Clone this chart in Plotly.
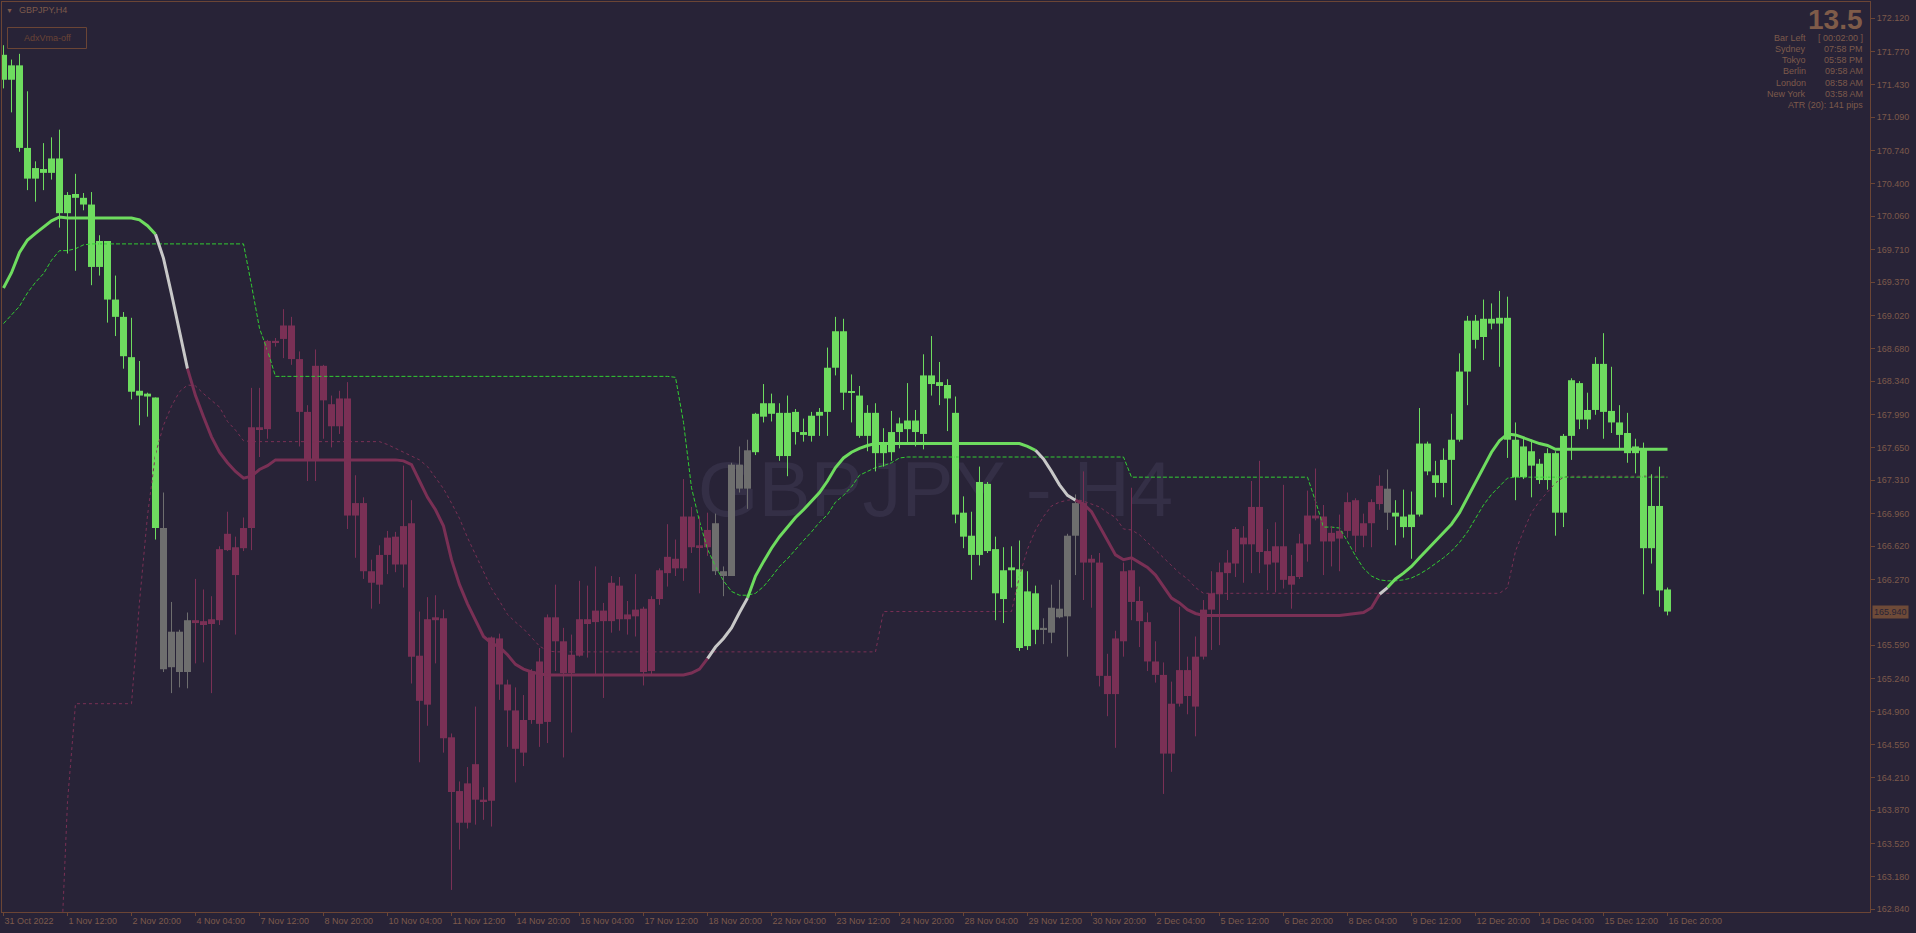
import plotly.graph_objects as go

# ---- data (GBPJPY H4) ----
time_labels = ['31 Oct 2022', '1 Nov 12:00', '2 Nov 20:00', '4 Nov 04:00', '7 Nov 12:00',
               '8 Nov 20:00', '10 Nov 04:00', '11 Nov 12:00', '14 Nov 20:00', '16 Nov 04:00',
               '17 Nov 12:00', '18 Nov 20:00', '22 Nov 04:00', '23 Nov 12:00', '24 Nov 20:00',
               '28 Nov 04:00', '29 Nov 12:00', '30 Nov 20:00', '2 Dec 04:00', '5 Dec 12:00',
               '6 Dec 20:00', '8 Dec 04:00', '9 Dec 12:00', '12 Dec 20:00', '14 Dec 04:00',
               '15 Dec 12:00', '16 Dec 20:00']

opens = [
    171.74, 171.48, 171.63, 170.77, 170.45, 170.55, 170.51, 170.66, 170.09, 170.29,
    170.25, 170.18, 169.53, 169.80, 169.19, 169.01, 168.59, 168.24, 168.21, 168.17,
    166.81, 165.36, 165.73, 165.31, 165.85, 165.84, 165.81, 165.85, 166.58, 166.61,
    166.60, 166.81, 167.86, 167.84, 168.76, 168.78, 168.92, 168.57, 168.02, 167.52,
    168.50, 168.10, 167.87, 168.16, 166.94, 167.07, 166.36, 166.22, 166.53, 166.72,
    166.43, 166.86, 165.48, 164.97, 165.85, 165.87, 164.63, 164.07, 163.74, 163.98,
    163.98, 163.97, 165.66, 165.18, 164.91, 164.47, 164.81, 165.42, 164.79, 165.88,
    165.63, 165.30, 165.48, 165.86, 165.83, 165.95, 165.84, 166.21, 165.86, 165.89,
    165.97, 165.32, 166.07, 166.34, 166.49, 166.39, 166.93, 166.61, 166.61, 166.86,
    166.36, 166.31, 167.47, 167.22, 167.60, 167.97, 168.11, 168.01, 167.56, 168.02,
    167.81, 167.77, 167.98, 168.02, 168.48, 168.86, 168.22, 168.19, 167.77, 168.01,
    167.59, 167.60, 167.81, 167.93, 167.81, 167.79, 168.40, 168.33, 168.30, 168.01,
    166.97, 166.73, 166.53, 167.27, 166.59, 166.07, 166.37, 166.38, 165.58, 166.13,
    165.75, 165.72, 165.97, 165.89, 166.73, 167.07, 166.45, 166.45, 165.27, 165.08,
    165.63, 166.37, 166.05, 165.83, 165.42, 165.28, 164.46, 164.98, 165.33, 164.95,
    165.47, 165.96, 166.12, 166.34, 166.44, 166.71, 166.64, 167.03, 166.57, 166.45,
    166.62, 166.31, 166.30, 166.64, 166.94, 166.93, 166.67, 166.78, 166.78, 167.10,
    166.73, 166.86, 167.06, 167.22, 166.97, 166.93, 166.82, 166.95, 167.69, 167.36,
    167.28, 167.52, 167.73, 168.44, 168.97, 168.80, 168.99, 168.94, 169.00, 167.73,
    167.34, 167.61, 167.48, 167.31, 167.59, 166.97, 167.77, 168.32, 167.94, 168.04,
    168.52, 168.03, 167.91, 167.80, 167.59, 167.63, 166.60, 167.04, 166.17]

highs = [
    171.84, 171.69, 171.75, 171.36, 170.63, 170.82, 170.88, 170.96, 170.31, 170.50,
    170.30, 170.31, 169.86, 169.80, 169.44, 169.06, 169.00, 168.55, 168.22, 168.17,
    167.18, 166.04, 165.75, 165.93, 166.28, 166.17, 166.10, 166.62, 166.98, 166.72,
    166.92, 168.27, 168.27, 168.77, 168.79, 169.09, 169.01, 168.65, 168.09, 168.67,
    168.51, 168.19, 168.24, 168.33, 167.36, 167.13, 166.48, 166.63, 166.78, 166.77,
    167.46, 167.10, 165.94, 166.09, 166.11, 165.96, 164.67, 164.17, 164.32, 164.95,
    164.11, 165.68, 165.71, 165.23, 165.15, 165.07, 165.34, 165.56, 165.91, 166.22,
    165.77, 165.70, 166.26, 166.21, 166.41, 166.03, 166.31, 166.30, 166.05, 166.33,
    165.99, 166.10, 166.39, 166.85, 166.69, 167.32, 167.03, 166.93, 166.97, 166.96,
    166.41, 167.49, 167.66, 167.73, 168.01, 168.31, 168.21, 168.11, 168.19, 168.05,
    167.95, 168.02, 168.06, 168.69, 169.01, 168.99, 168.41, 168.29, 168.09, 168.11,
    167.85, 168.03, 167.96, 168.32, 168.04, 168.62, 168.81, 168.54, 168.36, 168.18,
    167.14, 166.98, 167.45, 167.29, 166.72, 166.61, 166.62, 166.68, 166.36, 166.21,
    165.87, 166.22, 166.27, 166.75, 167.16, 167.40, 166.53, 166.55, 165.50, 165.74,
    166.45, 167.23, 166.20, 165.93, 165.63, 165.41, 165.21, 165.99, 165.47, 165.68,
    166.06, 166.36, 166.45, 166.58, 166.82, 166.83, 167.30, 167.51, 166.80, 166.87,
    167.26, 166.53, 166.75, 167.20, 167.43, 167.05, 166.83, 166.95, 167.18, 167.12,
    166.96, 167.11, 167.36, 167.42, 167.10, 167.21, 167.19, 168.06, 167.71, 167.51,
    167.64, 168.00, 168.63, 169.02, 169.03, 169.19, 169.15, 169.28, 169.22, 167.91,
    167.74, 167.73, 167.53, 167.64, 167.61, 167.79, 168.37, 168.34, 168.22, 168.59,
    168.84, 168.49, 168.09, 168.01, 167.74, 167.70, 167.37, 167.45, 166.19]

lows = [
    171.39, 171.14, 170.73, 170.33, 170.21, 170.33, 170.44, 169.94, 169.67, 169.49,
    170.12, 169.34, 169.44, 168.95, 168.81, 168.47, 168.15, 167.88, 167.97, 166.69,
    165.31, 165.09, 165.15, 165.14, 165.40, 165.41, 165.09, 165.80, 166.57, 165.70,
    166.57, 166.58, 167.55, 167.74, 168.70, 168.58, 168.51, 167.66, 167.30, 167.30,
    167.74, 167.65, 167.79, 166.80, 166.50, 166.28, 165.97, 166.02, 166.33, 166.35,
    166.19, 165.19, 164.37, 164.75, 165.40, 164.47, 163.04, 163.46, 163.68, 163.72,
    163.77, 163.70, 165.02, 164.53, 164.16, 164.33, 164.77, 164.53, 164.57, 165.32,
    164.42, 164.68, 165.47, 165.46, 165.27, 165.04, 165.72, 165.74, 165.70, 165.68,
    165.17, 165.28, 166.01, 166.20, 166.31, 166.26, 166.55, 166.13, 166.52, 166.32,
    166.10, 166.31, 167.18, 167.01, 167.57, 167.91, 167.92, 167.51, 167.35, 167.68,
    167.71, 167.71, 167.77, 167.77, 168.40, 168.04, 167.91, 167.75, 167.61, 167.40,
    167.45, 167.51, 167.64, 167.70, 167.66, 167.63, 168.19, 168.09, 167.82, 166.86,
    166.60, 166.27, 166.42, 166.55, 165.85, 165.82, 166.19, 165.53, 165.54, 165.60,
    165.60, 165.61, 165.87, 165.47, 166.32, 166.06, 165.98, 165.16, 164.85, 164.52,
    165.47, 165.85, 165.57, 165.32, 165.20, 164.04, 164.27, 164.95, 164.87, 164.64,
    165.44, 165.54, 165.59, 166.06, 166.30, 166.24, 166.34, 166.34, 166.16, 166.14,
    166.18, 165.97, 166.28, 166.46, 166.89, 166.32, 166.41, 166.36, 166.71, 166.56,
    166.61, 166.61, 167.00, 166.79, 166.63, 166.71, 166.49, 166.93, 167.36, 167.13,
    167.13, 167.05, 167.71, 168.09, 168.68, 168.56, 168.88, 168.49, 167.54, 167.10,
    167.32, 167.13, 167.27, 167.21, 166.73, 166.82, 167.52, 167.84, 167.84, 167.99,
    167.74, 167.80, 167.64, 167.49, 167.38, 166.12, 166.44, 165.99, 165.90]

closes = [
    171.48, 171.63, 170.77, 170.45, 170.56, 170.51, 170.66, 170.09, 170.28, 170.25,
    170.18, 169.53, 169.80, 169.19, 169.01, 168.60, 168.23, 168.19, 168.18, 166.81,
    165.34, 165.73, 165.31, 165.85, 165.82, 165.80, 165.86, 166.59, 166.75, 166.32,
    166.81, 167.86, 167.84, 168.76, 168.74, 168.92, 168.57, 168.02, 167.52, 168.50,
    168.14, 167.87, 168.16, 166.94, 167.07, 166.36, 166.24, 166.53, 166.71, 166.43,
    166.83, 165.47, 165.01, 165.86, 165.88, 164.62, 164.06, 163.74, 164.15, 164.35,
    163.96, 165.67, 165.18, 164.91, 164.51, 164.81, 165.32, 164.77, 165.88, 165.63,
    165.30, 165.49, 165.86, 165.81, 165.95, 165.84, 166.24, 165.86, 165.91, 165.96,
    165.31, 166.07, 166.37, 166.51, 166.39, 166.93, 166.61, 166.63, 166.79, 166.36,
    166.31, 167.47, 167.22, 167.62, 168.00, 168.11, 168.00, 167.56, 168.01, 167.81,
    167.78, 167.98, 168.02, 168.48, 168.86, 168.22, 168.23, 167.77, 168.01, 167.59,
    167.70, 167.81, 167.90, 167.84, 167.93, 168.40, 168.31, 168.29, 168.16, 166.95,
    166.72, 166.53, 167.29, 166.57, 166.13, 166.37, 166.40, 165.56, 166.15, 165.75,
    165.77, 165.98, 165.88, 166.73, 167.07, 166.45, 166.49, 165.27, 165.08, 165.66,
    166.36, 166.04, 165.84, 165.42, 165.28, 164.46, 164.98, 165.33, 165.06, 165.47,
    165.96, 166.13, 166.35, 166.45, 166.80, 166.64, 167.03, 166.56, 166.43, 166.62,
    166.27, 166.22, 166.65, 166.94, 166.91, 166.67, 166.76, 166.70, 167.08, 166.73,
    166.86, 167.08, 167.25, 166.97, 166.93, 166.82, 166.95, 167.69, 167.40, 167.28,
    167.52, 167.73, 168.44, 168.97, 168.77, 168.99, 168.94, 169.00, 167.73, 167.34,
    167.66, 167.46, 167.31, 167.59, 166.97, 167.77, 168.35, 167.94, 168.04, 168.52,
    168.02, 167.91, 167.78, 167.59, 167.66, 166.60, 167.04, 166.16, 165.94]

# trend state of the AdxVma, as (state, number of bars)
state_runs = [('up', 20), ('flat', 4), ('down', 65), ('flat', 5), ('up', 36),
              ('flat', 5), ('down', 38), ('flat', 1), ('up', 35)]

adxvma = [
    169.31, 169.47, 169.68, 169.81, 169.88, 169.95, 170.01, 170.05, 170.04, 170.04,
    170.04, 170.04, 170.04, 170.04, 170.04, 170.04, 170.04, 170.02, 169.96, 169.87,
    169.62, 169.25, 168.86, 168.47, 168.19, 167.97, 167.76, 167.60, 167.49, 167.40,
    167.33, 167.35, 167.42, 167.46, 167.52, 167.52, 167.52, 167.52, 167.52, 167.52,
    167.52, 167.52, 167.52, 167.52, 167.52, 167.52, 167.52, 167.52, 167.52, 167.52,
    167.51, 167.47, 167.30, 167.13, 167.00, 166.83, 166.48, 166.22, 166.02, 165.85,
    165.68, 165.61, 165.57, 165.49, 165.39, 165.34, 165.31, 165.29, 165.28, 165.28,
    165.28, 165.28, 165.28, 165.28, 165.28, 165.28, 165.28, 165.28, 165.28, 165.28,
    165.28, 165.28, 165.28, 165.28, 165.28, 165.28, 165.30, 165.34, 165.45, 165.57,
    165.66, 165.77, 165.93, 166.08, 166.31, 166.46, 166.60, 166.72, 166.82, 166.92,
    167.00, 167.09, 167.18, 167.30, 167.44, 167.54, 167.60, 167.64, 167.67, 167.69,
    167.69, 167.69, 167.69, 167.69, 167.69, 167.69, 167.69, 167.69, 167.69, 167.69,
    167.69, 167.69, 167.69, 167.69, 167.69, 167.69, 167.69, 167.69, 167.66, 167.62,
    167.53, 167.40, 167.26, 167.15, 167.10, 167.06, 166.98, 166.83, 166.67, 166.53,
    166.48, 166.50, 166.45, 166.40, 166.32, 166.20, 166.08, 166.03, 165.96, 165.92,
    165.90, 165.90, 165.90, 165.90, 165.90, 165.90, 165.90, 165.90, 165.90, 165.90,
    165.90, 165.90, 165.90, 165.90, 165.90, 165.90, 165.90, 165.90, 165.91, 165.92,
    165.93, 165.98, 166.12, 166.19, 166.28, 166.34, 166.41, 166.50, 166.59, 166.67,
    166.76, 166.85, 166.97, 167.13, 167.29, 167.45, 167.60, 167.72, 167.79, 167.78,
    167.75, 167.72, 167.69, 167.67, 167.63, 167.63, 167.63, 167.63, 167.63, 167.63,
    167.63, 167.63, 167.63, 167.63, 167.63, 167.63, 167.63, 167.63, 167.63]

upper_band = [
    168.94, 169.03, 169.12, 169.26, 169.37, 169.46, 169.60, 169.70, 169.70, 169.72,
    169.76, 169.77, 169.77, 169.77, 169.77, 169.77, 169.77, 169.77, 169.77, 169.77,
    169.77, 169.77, 169.77, 169.77, 169.77, 169.77, 169.77, 169.77, 169.77, 169.77,
    169.77, 169.34, 168.89, 168.66, 168.39, 168.39, 168.39, 168.39, 168.39, 168.39,
    168.39, 168.39, 168.39, 168.39, 168.39, 168.39, 168.39, 168.39, 168.39, 168.39,
    168.39, 168.39, 168.39, 168.39, 168.39, 168.39, 168.39, 168.39, 168.39, 168.39,
    168.39, 168.39, 168.39, 168.39, 168.39, 168.39, 168.39, 168.39, 168.39, 168.39,
    168.39, 168.39, 168.39, 168.39, 168.39, 168.39, 168.39, 168.39, 168.39, 168.39,
    168.39, 168.39, 168.39, 168.39, 168.38, 167.91, 167.23, 166.88, 166.59, 166.41,
    166.26, 166.15, 166.11, 166.11, 166.13, 166.20, 166.30, 166.41, 166.49, 166.59,
    166.68, 166.77, 166.87, 166.95, 167.08, 167.15, 167.24, 167.36, 167.40, 167.44,
    167.46, 167.49, 167.54, 167.55, 167.55, 167.55, 167.55, 167.55, 167.55, 167.55,
    167.55, 167.55, 167.55, 167.55, 167.55, 167.55, 167.55, 167.55, 167.55, 167.55,
    167.55, 167.55, 167.55, 167.55, 167.55, 167.55, 167.55, 167.55, 167.55, 167.55,
    167.55, 167.34, 167.34, 167.34, 167.34, 167.34, 167.34, 167.34, 167.34, 167.34,
    167.34, 167.34, 167.34, 167.34, 167.34, 167.34, 167.34, 167.34, 167.34, 167.34,
    167.34, 167.34, 167.34, 167.34, 167.09, 166.82, 166.82, 166.81, 166.67, 166.52,
    166.39, 166.31, 166.27, 166.26, 166.26, 166.27, 166.29, 166.33, 166.38, 166.44,
    166.50, 166.57, 166.66, 166.77, 166.91, 167.05, 167.16, 167.24, 167.33, 167.34,
    167.34, 167.34, 167.34, 167.34, 167.34, 167.34, 167.34, 167.34, 167.34, 167.34,
    167.34, 167.34, 167.34, 167.34, 167.34, 167.34, 167.34, 167.34, 167.34]

lower_band = [
    None, None, None, None, None, None, None, 162.00, 163.96, 164.98,
    164.98, 164.98, 164.98, 164.98, 164.98, 164.98, 164.98, 166.04, 166.94, 167.58,
    167.88, 168.08, 168.23, 168.30, 168.29, 168.21, 168.14, 168.07, 167.92, 167.83,
    167.72, 167.71, 167.71, 167.71, 167.71, 167.71, 167.71, 167.71, 167.71, 167.71,
    167.71, 167.71, 167.71, 167.71, 167.71, 167.71, 167.71, 167.71, 167.68, 167.64,
    167.60, 167.56, 167.52, 167.45, 167.34, 167.22, 167.07, 166.91, 166.71, 166.53,
    166.35, 166.18, 166.05, 165.91, 165.83, 165.76, 165.67, 165.58, 165.53, 165.52,
    165.52, 165.52, 165.52, 165.52, 165.52, 165.52, 165.52, 165.52, 165.52, 165.52,
    165.52, 165.52, 165.52, 165.52, 165.52, 165.52, 165.52, 165.52, 165.52, 165.52,
    165.52, 165.52, 165.52, 165.52, 165.52, 165.52, 165.52, 165.52, 165.52, 165.52,
    165.52, 165.52, 165.52, 165.52, 165.52, 165.52, 165.52, 165.52, 165.52, 165.52,
    165.94, 165.94, 165.94, 165.94, 165.94, 165.94, 165.94, 165.94, 165.94, 165.94,
    165.94, 165.94, 165.94, 165.94, 165.94, 165.94, 165.94, 166.31, 166.59, 166.79,
    166.93, 167.04, 167.08, 167.10, 167.11, 167.09, 167.06, 167.03, 166.97, 166.92,
    166.80, 166.79, 166.74, 166.66, 166.59, 166.50, 166.42, 166.34, 166.28, 166.19,
    166.13, 166.13, 166.13, 166.13, 166.13, 166.13, 166.13, 166.13, 166.13, 166.13,
    166.13, 166.13, 166.13, 166.13, 166.13, 166.13, 166.13, 166.13, 166.13, 166.13,
    166.13, 166.13, 166.13, 166.13, 166.13, 166.13, 166.13, 166.13, 166.13, 166.13,
    166.13, 166.13, 166.13, 166.13, 166.13, 166.13, 166.13, 166.13, 166.19, 166.57,
    166.78, 166.97, 167.09, 167.19, 167.28, 167.34, 167.35, 167.35, 167.35, 167.35,
    167.35, 167.35, 167.35, 167.35, 167.35, 167.35, 167.35, 167.35, 167.35]

price_ticks = [172.12, 171.77, 171.43, 171.09, 170.74, 170.40, 170.06, 169.71, 169.37,
               169.02, 168.68, 168.34, 167.99, 167.65, 167.31, 166.96, 166.62, 166.27,
               165.59, 165.24, 164.90, 164.55, 164.21, 163.87, 163.52, 163.18, 162.84]
last_price = 165.940

info_big = '13.5'
info_rows = [('Bar Left', '[ 00:02:00 ]'), ('Sydney', '07:58 PM'), ('Tokyo', '05:58 PM'),
             ('Berlin', '09:58 AM'), ('London', '08:58 AM'), ('New York', '03:58 AM')]
atr_text = 'ATR (20): 141 pips'

# ---- styling ----
FONT = 'Liberation Sans, Arial, sans-serif'
BG = '#282337'
FRAME = '#6b4535'
TXT = '#7d5a4b'
CANDLE = {'up': '#6edc5f', 'flat': '#6e6e6e', 'down': '#7a3055'}
LINE = {'up': '#6edc5f', 'flat': '#c8c8c8', 'down': '#7a3055'}

W, H = 1916, 933
ML, MR, MT, MB = 2, 46, 2, 21
PW = W - ML - MR
PH = H - MT - MB


def px_x(px):
    return (px - ML) / PW


def px_y(py):
    return (MT + PH - py) / PH


n = len(closes)
idx = list(range(n))
states = []
for s, k in state_runs:
    states += [s] * k

fig = go.Figure()

# bands
fig.add_trace(go.Scatter(x=idx, y=lower_band, mode='lines', connectgaps=False,
                         line=dict(color='#7a3055', width=1, dash='3px,3px')))
fig.add_trace(go.Scatter(x=idx, y=upper_band, mode='lines',
                         line=dict(color='#32cd32', width=1, dash='4px,2px')))

# candle bodies
base = [min(o, c) for o, c in zip(opens, closes)]
height = [max(abs(c - o), 0.011) for o, c in zip(opens, closes)]
fig.add_trace(go.Bar(x=idx, y=height, base=base, width=0.875,
                     marker=dict(color=[CANDLE[s] for s in states], line=dict(width=0))))

# wicks
for s in ('up', 'flat', 'down'):
    wx, wy = [], []
    for i in idx:
        if states[i] == s:
            wx += [i, i, None]
            wy += [lows[i], highs[i], None]
    fig.add_trace(go.Scatter(x=wx, y=wy, mode='lines', line=dict(color=CANDLE[s], width=1)))

# AdxVma line, each segment coloured by the state of the bar it ends on
for s in ('up', 'flat', 'down'):
    ys = []
    for i in idx:
        nxt = states[i + 1] if i + 1 < n else None
        ys.append(adxvma[i] if states[i] == s or nxt == s else None)
    fig.add_trace(go.Scatter(x=idx, y=ys, mode='lines', connectgaps=False,
                             line=dict(color=LINE[s], width=3)))

# watermark behind everything
fig.add_shape(type='rect', xref='x', yref='y', x0=86, x1=147, y0=166.95, y1=167.62,
              layer='below', line=dict(width=0), fillcolor='rgba(0,0,0,0)',
              label=dict(text='GBPJPY - H4', textposition='middle center',
                         font=dict(family=FONT, size=78, color='#342f46')))

ann = []
ann.append(dict(x=px_x(9.5), y=px_y(10.5), text='▼', font=dict(size=7, color=TXT),
                xanchor='center', yanchor='middle'))
ann.append(dict(x=px_x(17), y=px_y(10.5), text='GBPJPY,H4', font=dict(size=9, color=TXT),
                xanchor='left', yanchor='middle'))
ann.append(dict(x=px_x(47), y=px_y(38), text='AdxVma-off', font=dict(size=9, color='#6a4436'),
                xanchor='center', yanchor='middle'))
ann.append(dict(x=px_x(1865), y=px_y(19), text='<b>' + info_big + '</b>',
                font=dict(size=28, color='#7f5b49'), xanchor='right', yanchor='middle'))
for k, (lab, val) in enumerate(info_rows):
    yy = px_y(38.3 + 11.05 * k)
    ann.append(dict(x=px_x(1808), y=yy, text=lab, font=dict(size=9, color=TXT),
                    xanchor='right', yanchor='middle'))
    ann.append(dict(x=px_x(1865), y=yy, text=val, font=dict(size=9, color=TXT),
                    xanchor='right', yanchor='middle'))
ann.append(dict(x=px_x(1865), y=px_y(104.7), text=atr_text, font=dict(size=9, color=TXT),
                xanchor='right', yanchor='middle'))
ann.append(dict(x=px_x(1872), y=last_price, yref='y', text='%.3f' % last_price,
                font=dict(size=9, color=BG), bgcolor='#6e4a38', borderpad=1,
                xanchor='left', yanchor='middle'))
for a in ann:
    a.setdefault('xref', 'paper')
    a.setdefault('yref', 'paper')
    a['showarrow'] = False
    a['font']['family'] = FONT

fig.add_shape(type='rect', xref='paper', yref='paper', x0=px_x(7.5), x1=px_x(86.5),
              y0=px_y(48.5), y1=px_y(27.5), line=dict(color='#6b4535', width=1))

x0 = -0.1875
fig.update_layout(
    width=W, height=H,
    margin=dict(l=ML, r=MR, t=MT, b=MB),
    paper_bgcolor=BG, plot_bgcolor=BG,
    showlegend=False, hovermode=False, barmode='overlay',
    font=dict(family=FONT, size=9, color=TXT),
    annotations=ann,
    xaxis=dict(range=[x0, x0 + PW / 8.0], showgrid=False, zeroline=False,
               showline=True, mirror=True, linecolor=FRAME, linewidth=1,
               tickvals=list(range(0, 8 * len(time_labels), 8)), ticktext=time_labels,
               ticks='outside', ticklen=3, tickcolor=FRAME,
               ticklabelposition='outside right',
               tickfont=dict(size=9, color=TXT, family=FONT)),
    yaxis=dict(range=[162.81, 172.29], side='right', showgrid=False, zeroline=False,
               showline=True, mirror=True, linecolor=FRAME, linewidth=1,
               tickvals=price_ticks, tickformat='.3f',
               ticks='outside', ticklen=4, tickcolor=FRAME,
               tickfont=dict(size=9, color=TXT, family=FONT)),
)

fig.write_html('out.html', config={'displayModeBar': False},
               post_script="document.body.style.margin='0';document.body.style.background='#282337';")
